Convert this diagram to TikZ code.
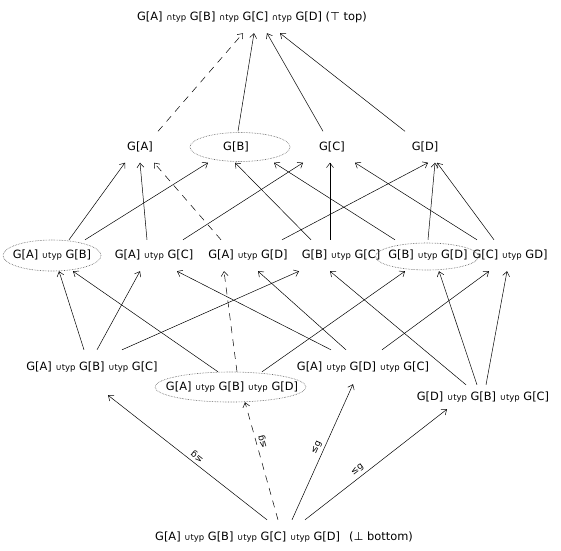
\documentclass[tikz,border=0pt]{standalone}
\usepackage{fontspec}
\setmainfont{DejaVu Sans}
\usetikzlibrary{arrows.meta}
\newcommand{\utyp}{{\fontsize{8.5}{10}\selectfont ∪typ}}
\newcommand{\ityp}{{\fontsize{8.5}{10}\selectfont ∩typ}}
\tikzset{
  elem/.style={font=\fontsize{11.4}{13}\selectfont, inner sep=0pt, minimum height=31pt},
  circled/.style={draw=black!65, densely dotted, line width=0.6pt},
  edge/.style={->, line width=0.5pt},
  dashedge/.style={edge, dash pattern=on 7pt off 6pt},
  lbl/.style={font=\fontsize{9}{10}\selectfont, sloped, allow upside down, inner sep=3pt},
  >={Straight Barb[length=4.5pt,width=7pt]}
}
\begin{document}
\begin{tikzpicture}[x=1pt,y=-1pt]
    \useasboundingbox (0,0) rectangle (561,550);

    \node[elem, minimum height=32pt] (top) at (252,17) {G[A] \ityp{} G[B] \ityp{} G[C] \ityp{} G[D] (⊤ top)};

    \node[elem] (A) at (140,147) {G[A]};
    \node[elem] (B) at (236,147) {G[B]};
    \node[elem] (C) at (332,147) {G[C]};
    \node[elem] (D) at (425,147) {G[D]};
    \draw[circled] ([xshift=4pt]B.center) ellipse (50pt and 14.5pt);

    \node[elem] (AB) at (52,255.5) {G[A] \utyp{} G[B]};
    \node[elem] (AC) at (154,255.5) {G[A] \utyp{} G[C]};
    \node[elem] (AD) at (248,255.5) {G[A] \utyp{} G[D]};
    \node[elem] (BC) at (341,255.5) {G[B] \utyp{} G[C]};
    \node[elem] (BD) at (428,255.5) {G[B] \utyp{} G[D]};
    \node[elem] (CD) at (510,255.5) {G[C] \utyp{} GD]};
    \draw[circled] (AB.center) ellipse (49pt and 15.5pt);
    \draw[circled] ([xshift=-1pt,yshift=-1pt]BD.center) ellipse (51.5pt and 13.5pt);

    \node[elem, minimum height=34pt] (ABC) at (92,367) {G[A] \utyp{} G[B] \utyp{} G[C]};
    \node[elem, minimum height=30pt] (ABD) at (232,387) {G[A] \utyp{} G[B] \utyp{} G[D]};
    \node[elem, minimum height=34pt] (ADC) at (363,367) {G[A] \utyp{} G[D] \utyp{} G[C]};
    \node[elem, minimum height=24pt] (DBC) at (483,397) {G[D] \utyp{} G[B] \utyp{} G[C]};
    \draw[circled] ([xshift=-1.5pt]ABD.center) ellipse (75.5pt and 15pt);

    \node[elem, minimum height=34pt] (bot) at (284,537) {G[A] \utyp{} G[B] \utyp{} G[C] \utyp{} G[D]\hspace{9pt}(⊥ bottom)};

    \draw[dashedge] ([xshift=18pt]A.north) -- ([xshift=-9pt]top.south);
    \draw[edge] ([xshift=2pt]B.north) -- ([xshift=2pt]top.south);
    \draw[edge] ([xshift=-9pt]C.north) -- ([xshift=15pt]top.south);
    \draw[edge] ([xshift=-20pt]D.north) -- ([xshift=28pt]top.south);

    \draw[edge] ([xshift=17pt]AB.north) -- ([xshift=-15pt]A.south);
    \draw[edge] ([xshift=33pt]AB.north) -- ([xshift=-28pt]B.south);
    \draw[edge] ([xshift=-7pt]AC.north) -- (A.south);
    \draw[edge] ([xshift=29pt]AC.north) -- ([xshift=-29pt]C.south);
    \draw[dashedge] ([xshift=-27pt]AD.north) -- ([xshift=14pt]A.south);
    \draw[edge] ([xshift=34pt]AD.north) -- ([xshift=3pt]D.south);
    \draw[edge] ([xshift=-30pt]BC.north) -- ([xshift=-1pt]B.south);
    \draw[edge] ([xshift=-11pt]BC.north) -- ([xshift=-2pt]C.south);
    \draw[edge] ([xshift=-33pt]BD.north) -- ([xshift=38pt]B.south);
    \draw[edge] (BD.north) -- ([xshift=10pt]D.south);
    \draw[edge] ([xshift=-33pt]CD.north) -- ([xshift=23pt]C.south);
    \draw[edge] ([xshift=-16pt]CD.north) -- ([xshift=12pt]D.south);

    \draw[edge] ([xshift=-8pt]ABC.north) -- ([xshift=7pt]AB.south);
    \draw[edge] ([xshift=5pt]ABC.north) -- ([xshift=-14pt]AC.south);
    \draw[edge] ([xshift=30pt]ABC.north) -- ([xshift=-42pt]BC.south);
    \draw[edge] ([xshift=-14pt]ABD.north) -- ([xshift=21pt]AB.south);
    \draw[dashedge] ([xshift=5pt]ABD.north) -- ([xshift=-24pt]AD.south);
    \draw[edge] ([xshift=30pt]ABD.north) -- ([xshift=-23pt]BD.south);
    \draw[edge] ([xshift=-32pt]ADC.north) -- ([xshift=23pt]AC.south);
    \draw[edge] ([xshift=-17pt]ADC.north) -- ([xshift=10pt]AD.south);
    \draw[edge] ([xshift=19pt]ADC.north) -- ([xshift=-21pt]CD.south);
    \draw[edge] ([xshift=-17pt]DBC.north) -- ([xshift=-11pt]BC.south);
    \draw[edge] ([xshift=-6pt]DBC.north) -- ([xshift=11pt]BD.south);
    \draw[edge] ([xshift=3pt]DBC.north) -- ([xshift=-3pt]CD.south);

    \draw[edge] ([xshift=-17pt]bot.north) -- node[lbl, pos=0.465, below] {≤g} ([xshift=16pt,yshift=-11pt]ABC.south);
    \draw[dashedge] ([xshift=-6pt]bot.north) -- node[lbl, pos=0.65, below] {≤g} ([xshift=13pt]ABD.south);
    \draw[edge] ([xshift=8pt]bot.north) -- node[lbl, pos=0.51, above] {≤g} ([xshift=-10pt]ADC.south);
    \draw[edge] ([xshift=21pt]bot.north) -- node[lbl, pos=0.4, above] {≤g} ([xshift=-36pt]DBC.south);
\end{tikzpicture}
\end{document}
